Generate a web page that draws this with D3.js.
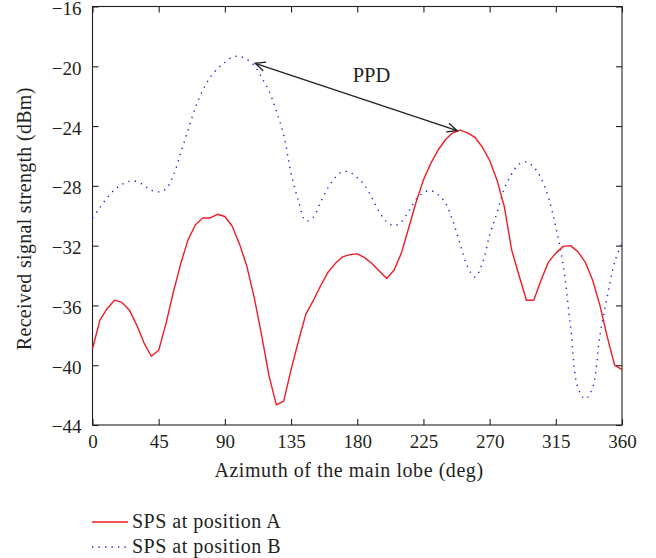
<!DOCTYPE html>
<html>
<head>
<meta charset="utf-8">
<script src="https://cdn.jsdelivr.net/npm/d3@7"></script>
<style>
  html, body { margin: 0; padding: 0; background: #fff; }
  svg { display: block; }
</style>
</head>
<body>
<svg id="chart" width="656" height="558"></svg>
<script>
// ---- Data ----
const azimuth = d3.range(0, 361, 5); // 0..360 step 5
const seriesA = [
  -38.9, -37.0, -36.2, -35.65, -35.8, -36.3, -37.3, -38.5, -39.4, -39.0,
  -37.2, -35.1, -33.2, -31.6, -30.6, -30.15, -30.15, -29.9, -30.05, -30.7,
  -31.9, -33.4, -35.5, -38.0, -40.7, -42.65, -42.4, -40.3, -38.4, -36.6,
  -35.7, -34.7, -33.8, -33.2, -32.75, -32.6, -32.55, -32.8, -33.2, -33.7,
  -34.2, -33.65, -32.5, -30.8, -29.1, -27.6, -26.5, -25.6, -24.9, -24.45,
  -24.27, -24.45, -24.75, -25.4, -26.3, -27.6, -29.4, -32.3, -34.0, -35.65,
  -35.65, -34.3, -33.1, -32.5, -32.05, -32.0, -32.4, -33.1, -34.3, -36.0,
  -38.1, -40.0, -40.3
];
const seriesB = [
  -30.15, -29.45, -28.8, -28.25, -27.9, -27.7, -27.7, -27.97, -28.3, -28.4,
  -28.2, -27.3, -25.8, -24.25, -22.75, -21.6, -20.75, -20.15, -19.75, -19.4,
  -19.33, -19.55, -19.95, -20.75, -21.65, -23.0, -24.6, -27.15, -29.0, -30.35,
  -30.1, -29.1, -28.15, -27.45, -27.05, -27.1, -27.45, -27.95, -28.8, -29.75,
  -30.4, -30.67, -30.4, -29.7, -28.9, -28.45, -28.32, -28.6, -29.15, -30.35,
  -31.9, -33.4, -34.1, -33.2, -31.3, -29.8, -28.2, -27.2, -26.55, -26.4,
  -26.75, -27.5, -28.8, -30.75, -33.3, -37.4, -41.5, -42.25, -41.5, -38.0,
  -35.4, -33.1, -31.8
];
const xTicks = [0, 45, 90, 135, 180, 225, 270, 315, 360];
const yTicks = [-44, -40, -36, -32, -28, -24, -20, -16];
const seriesNames = ["SPS at position A", "SPS at position B"];
const xLabel = "Azimuth of the main lobe (deg)";
const yLabel = "Received signal strength (dBm)";
const annotText = "PPD";
const annotFrom = [110.6, -19.8];   // near peak of B
const annotTo = [247.9, -24.31];    // peak of A
const annotLabelPos = [189.7, -21.05];

// ---- Layout ----
const FONT = '"Liberation Serif"';
const TXT = "#231f20";
const svg = d3.select("#chart");
const x = d3.scaleLinear().domain([0, 360]).range([92.5, 622]);
const y = d3.scaleLinear().domain([-44, -16]).range([425, 6.5]);
const colA = "#ee1c25";
const colB = "#1a1ad0";

const g = svg.append("g");

function txt(sel, size) {
  return sel.style("font-family", FONT).style("font-size", size + "px").attr("fill", TXT);
}

// frame
g.append("rect")
  .attr("x", x(0)).attr("y", y(-16))
  .attr("width", x(360) - x(0)).attr("height", y(-44) - y(-16))
  .attr("fill", "none").attr("stroke", TXT).attr("stroke-width", 1.1);

// axes with inward ticks
const tickLen = 6;
const fmt = d3.format("d");
const axB = d3.axisBottom(x).tickValues(xTicks).tickSizeInner(-tickLen).tickSizeOuter(0).tickPadding(10).tickFormat(fmt);
const axT = d3.axisTop(x).tickValues(xTicks).tickSizeInner(-tickLen).tickSizeOuter(0).tickFormat("");
const axL = d3.axisLeft(y).tickValues(yTicks).tickSizeInner(-tickLen).tickSizeOuter(0).tickPadding(11).tickFormat(fmt);
const axR = d3.axisRight(y).tickValues(yTicks).tickSizeInner(-tickLen).tickSizeOuter(0).tickFormat("");

function styleAxis(sel) {
  sel.select(".domain").remove();
  sel.selectAll(".tick line").attr("stroke", TXT).attr("stroke-width", 1.1);
  txt(sel.selectAll(".tick text"), 19);
}
g.append("g").attr("transform", `translate(0,${y(-44)})`).call(axB).call(styleAxis);
g.append("g").attr("transform", `translate(0,${y(-16)})`).call(axT).call(styleAxis);
const gl = g.append("g").attr("transform", `translate(${x(0)},0)`).call(axL).call(styleAxis);
gl.selectAll(".tick text").attr("dy", "0.42em");
g.append("g").attr("transform", `translate(${x(360)},0)`).call(axR).call(styleAxis);

// series
const lineA = d3.line().x((d, i) => x(azimuth[i])).y(d => y(d));
const lineB = d3.line().x((d, i) => x(azimuth[i])).y(d => y(d)).curve(d3.curveCatmullRom.alpha(0.5));

g.append("path").datum(seriesB)
  .attr("d", lineB).attr("fill", "none")
  .attr("stroke", colB).attr("stroke-width", 1.4)
  .attr("stroke-dasharray", "1.3,5.2");

g.append("path").datum(seriesA)
  .attr("d", lineA).attr("fill", "none")
  .attr("stroke", colA).attr("stroke-width", 1.4)
  .attr("stroke-linejoin", "round");

// annotation double arrow
const x1 = x(annotFrom[0]), y1 = y(annotFrom[1]);
const x2 = x(annotTo[0]), y2 = y(annotTo[1]);
g.append("line").attr("x1", x1).attr("y1", y1).attr("x2", x2).attr("y2", y2)
  .attr("stroke", TXT).attr("stroke-width", 1.3);
function arrowHead(tx, ty, fx, fy) {
  const ang = Math.atan2(ty - fy, tx - fx);
  const L = 11, a = 0.42;
  const p1 = [tx - L * Math.cos(ang - a), ty - L * Math.sin(ang - a)];
  const p2 = [tx - L * Math.cos(ang + a), ty - L * Math.sin(ang + a)];
  g.append("path")
    .attr("d", `M${p1[0]},${p1[1]}L${tx},${ty}L${p2[0]},${p2[1]}`)
    .attr("fill", "none").attr("stroke", TXT).attr("stroke-width", 1.3);
}
arrowHead(x1, y1, x2, y2);
arrowHead(x2, y2, x1, y1);
txt(g.append("text").attr("x", x(annotLabelPos[0])).attr("y", y(annotLabelPos[1]))
  .attr("text-anchor", "middle"), 20.5).text(annotText);

// axis labels
txt(g.append("text").attr("x", 349).attr("y", 477)
  .attr("text-anchor", "middle"), 20).style("letter-spacing", "0.55px")
  .text(xLabel);
txt(g.append("text").attr("transform", `translate(31,${(y(-16) + y(-44)) / 2 + 3}) rotate(-90)`)
  .attr("text-anchor", "middle"), 20).style("letter-spacing", "0.3px")
  .text(yLabel);

// legend
const legend = g.append("g");
const legY = [522, 547];
legend.append("line").attr("x1", 92).attr("x2", 128).attr("y1", legY[0]).attr("y2", legY[0])
  .attr("stroke", colA).attr("stroke-width", 1.4);
legend.append("line").attr("x1", 92).attr("x2", 128).attr("y1", legY[1]).attr("y2", legY[1])
  .attr("stroke", colB).attr("stroke-width", 1.4).attr("stroke-dasharray", "1.3,5.2");
seriesNames.forEach((name, i) => {
  txt(legend.append("text").attr("x", 132).attr("y", legY[i] + 5.5), 20)
    .style("letter-spacing", "0.5px").text(name);
});
</script>
</body>
</html>
